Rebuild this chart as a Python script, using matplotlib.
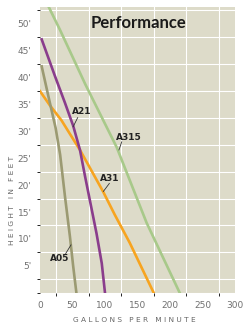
import numpy as np
import matplotlib
matplotlib.use("Agg")
import matplotlib.pyplot as plt

# pump curves (gpm, feet)
a05_gpm = [2.6, 13, 24, 31, 38.5, 46, 51, 56]
a05_ft = [42, 36.4, 30.6, 25.6, 17.8, 10.5, 5, 0]
a21_gpm = [2.6, 23, 38.5, 51, 61.5, 69, 77, 87, 95, 100]
a21_ft = [47, 40.2, 35.2, 31, 26.5, 21.8, 17, 11, 5.5, 0]
a31_gpm = [0, 15, 33, 49, 61.5, 97, 115, 138, 175]
a31_ft = [37.4, 34.8, 32, 28.9, 26.5, 18.8, 14.5, 9.3, 0]
a315_gpm = [13.5, 31, 70, 118, 164, 215]
a315_ft = [53, 48.7, 38.6, 27, 13, 0]

x_ticks = [0, 50, 100, 150, 200, 250, 300]
y_ticks = [5, 10, 15, 20, 25, 30, 35, 40, 45, 50]

fig = plt.figure(figsize=(2.5, 3.34), dpi=100)
ax = fig.add_axes([0.16, 0.123, 0.78, 0.856])
ax.set_facecolor("#dddbc9")

ax.set_xlim(0, 300)
ax.set_ylim(0, 53)
ax.set_xticks(np.arange(0, 301, 25), minor=True)
ax.set_yticks(np.arange(0, 53, 2.5), minor=True)
ax.grid(which="minor", color="white", linewidth=0.8)
ax.set_axisbelow(True)
ax.set_xticks(x_ticks)
ax.set_xticklabels([str(v) for v in x_ticks])
ax.set_yticks(y_ticks)
ax.set_yticklabels([f"{v}'" for v in y_ticks])
ax.tick_params(length=0, labelsize=6.5, labelcolor="#707070", pad=6)
for s in ax.spines.values():
    s.set_visible(False)

ax.plot(a315_gpm, a315_ft, color="#a8c98a", lw=1.9)
ax.plot(a31_gpm, a31_ft, color="#f7a420", lw=1.9)
ax.plot(a21_gpm, a21_ft, color="#8a3d8c", lw=1.9)
ax.plot(a05_gpm, a05_ft, color="#9b9a72", lw=1.9)

# curve labels with leader lines
lab = dict(fontsize=6.5, fontweight="bold", color="#222222",
           ha="center", va="center")
ax.text(64, 33.6, "A21", **lab)
ax.plot([58, 51], [32.5, 30.8], color="#333333", lw=0.6)
ax.text(137, 28.9, "A315", **lab)
ax.plot([125.7, 121.5], [28, 26.5], color="#333333", lw=0.6)
ax.text(107.5, 21.3, "A31", **lab)
ax.plot([106.7, 97.4], [20.3, 18.8], color="#333333", lw=0.6)
ax.text(30.7, 6.3, "A05", **lab)
ax.plot([39.5, 47.7], [7.3, 8.9], color="#333333", lw=0.6)

ax.text(0.503, 0.943, "Performance", transform=ax.transAxes, ha="center",
        va="center", fontsize=12, fontweight="bold", family="Lato",
        color="#1a1a1a")

ax.set_xlabel("G A L L O N S   P E R   M I N U T E", fontsize=5.3,
              color="#666666")
ax.xaxis.set_label_coords(0.485, -0.085)
ax.set_ylabel("H E I G H T   I N   F E E T", fontsize=5.3,
              color="#666666")
ax.yaxis.set_label_coords(-0.128, 0.325)

fig.savefig("out.png", dpi=100, facecolor="white")
